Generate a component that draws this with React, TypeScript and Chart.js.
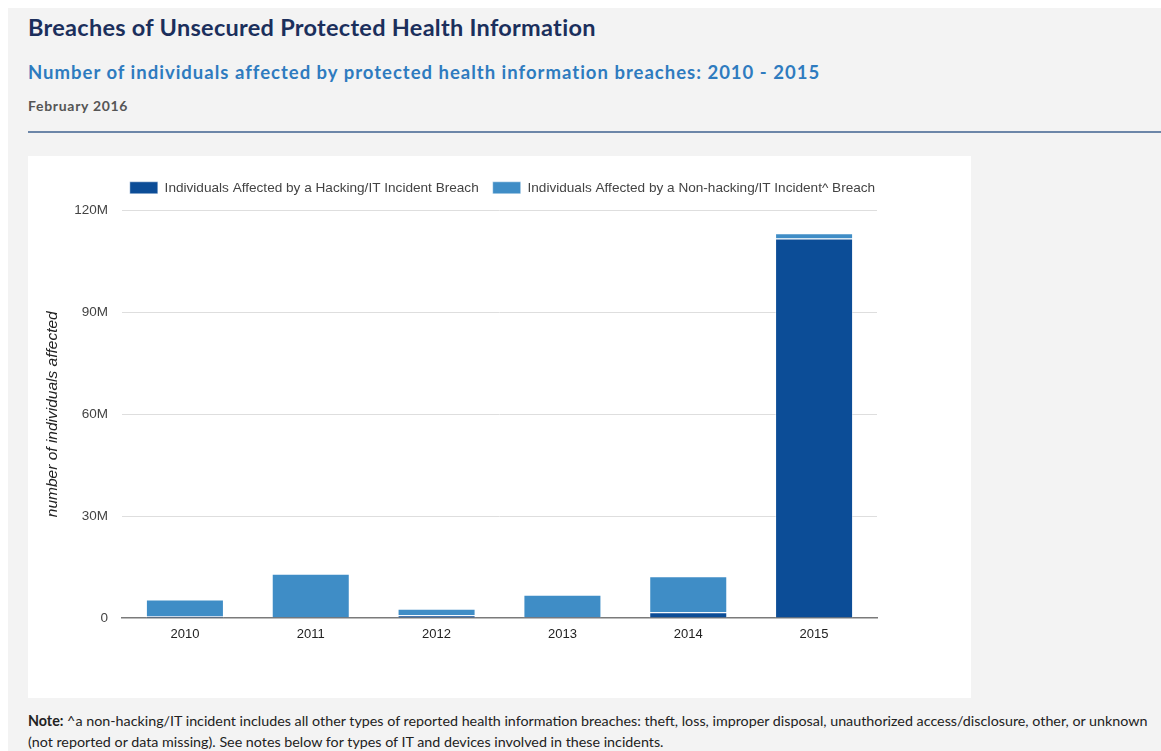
import React, { useEffect, useRef } from "react";
import { Chart, registerables } from "chart.js";

Chart.register(...registerables);

// Years shown on the x axis
const years = ["2010", "2011", "2012", "2013", "2014", "2015"];
// Individuals affected (millions) by hacking/IT incident breaches
const hackingMillions = [0.5, 0.2, 0.8, 0.3, 1.7, 111.8];
// Individuals affected (millions) by non-hacking/IT incident breaches
const nonHackingMillions = [4.9, 12.8, 1.9, 6.55, 10.6, 1.5];
// Y axis tick values (millions)
const yTicks = [0, 30, 60, 90, 120];

const seriesLabels = [
  "Individuals Affected by a Hacking/IT Incident Breach",
  "Individuals Affected by a Non-hacking/IT Incident^ Breach",
];

const DARK = "#0c4d97";
const LIGHT = "#3f8dc6";
const headFont = "Lato, 'Open Sans', sans-serif";
const chartFont = "'Liberation Sans', Arial, sans-serif";

// Adds extra room under the legend before the plot area starts
const legendSpacer = {
  id: "legendSpacer",
  beforeInit(chart: any) {
    if (!chart.legend) return;
    const origFit = chart.legend.fit;
    chart.legend.fit = function fit() {
      origFit.bind(chart.legend)();
      this.height += 6;
    };
  },
};

function BreachChart() {
  const ref = useRef<HTMLCanvasElement | null>(null);
  useEffect(() => {
    if (!ref.current) return;
    const chart = new Chart(ref.current, {
      type: "bar",
      data: {
        labels: years,
        datasets: [
          {
            label: seriesLabels[0],
            data: hackingMillions.map((v) => v * 1e6),
            backgroundColor: DARK,
            borderColor: "rgba(255,255,255,0.45)",
            borderWidth: 1,
            categoryPercentage: 1,
            barPercentage: 0.62,
          },
          {
            label: seriesLabels[1],
            data: nonHackingMillions.map((v) => v * 1e6),
            backgroundColor: LIGHT,
            borderColor: "rgba(255,255,255,0.45)",
            borderWidth: 1,
            categoryPercentage: 1,
            barPercentage: 0.62,
          },
        ],
      },
      plugins: [legendSpacer],
      options: {
        animation: false,
        responsive: false,
        maintainAspectRatio: false,
        layout: { padding: { left: 14, right: 8, top: 11, bottom: 46.5 } },
        plugins: {
          tooltip: { enabled: false },
          legend: {
            position: "top",
            labels: {
              boxWidth: 28,
              boxHeight: 12,
              padding: 14,
              color: "#444",
              font: { family: chartFont, size: 13.6 },
            },
          },
        },
        scales: {
          x: {
            stacked: true,
            grid: { display: false, drawTicks: false },
            border: { display: true, color: "#7a7a7a", width: 1.5 },
            ticks: {
              padding: 9,
              color: "#222",
              font: { family: chartFont, size: 13 },
            },
          },
          y: {
            stacked: true,
            min: 0,
            max: 120e6,
            afterBuildTicks: (scale: any) => {
              scale.ticks = yTicks.map((v) => ({ value: v * 1e6 }));
            },
            afterFit: (scale: any) => {
              scale.width = 80;
            },
            grid: {
              drawTicks: false,
              color: (ctx: any) => (ctx.tick && ctx.tick.value === 0 ? "rgba(0,0,0,0)" : "#dedede"),
            },
            border: { display: false },
            ticks: {
              padding: 14,
              color: "#444",
              font: { family: chartFont, size: 13.5 },
              callback: (v: any) => (Number(v) === 0 ? "0" : `${Number(v) / 1e6}M`),
            },
            title: {
              display: true,
              text: "number of individuals affected",
              color: "#222",
              padding: { top: 1, bottom: 4 },
              font: { family: chartFont, size: 15.5, style: "italic" },
            },
          },
          // empty right-hand axis that keeps the plot area clear of the right edge
          spacer: {
            type: "linear",
            position: "right",
            display: true,
            grid: { display: false, drawTicks: false },
            border: { display: false },
            ticks: { display: false },
            afterFit: (scale: any) => {
              scale.width = 86;
            },
          },
        },
      },
    });
    return () => chart.destroy();
  }, []);
  return <canvas ref={ref} width={943} height={542} style={{ display: "block" }} />;
}

export default function App() {
  return (
    <div
      style={{
        position: "fixed",
        left: 8,
        top: 8,
        right: 0,
        bottom: 0,
        background: "#f3f3f3",
        overflow: "hidden",
        fontFamily: headFont,
      }}
    >
      <div
        style={{
          position: "absolute",
          left: 20,
          top: 5,
          fontSize: 23.5,
          letterSpacing: 0.28,
          fontWeight: 700,
          color: "#1b2f5c",
          whiteSpace: "nowrap",
          lineHeight: "28px",
        }}
      >
        Breaches of Unsecured Protected Health Information
      </div>
      <div
        style={{
          position: "absolute",
          left: 20,
          top: 52,
          fontSize: 18.5,
          letterSpacing: 1,
          fontWeight: 700,
          color: "#2e7bbf",
          whiteSpace: "nowrap",
          lineHeight: "24px",
        }}
      >
        Number of individuals affected by protected health information breaches: 2010 - 2015
      </div>
      <div
        style={{
          position: "absolute",
          left: 20,
          top: 89,
          fontSize: 14,
          letterSpacing: 0.7,
          fontWeight: 700,
          color: "#555",
          whiteSpace: "nowrap",
          lineHeight: "18px",
        }}
      >
        February 2016
      </div>
      <div
        style={{
          position: "absolute",
          left: 20,
          right: 0,
          top: 123,
          height: 2,
          background: "#6c86a8",
        }}
      />
      <div
        style={{
          position: "absolute",
          left: 20,
          top: 148,
          width: 943,
          height: 542,
          background: "#fff",
        }}
      >
        <BreachChart />
      </div>
      <div
        style={{
          position: "absolute",
          left: 20,
          top: 702,
          fontSize: 14.3,
          color: "#222",
          lineHeight: "21px",
          whiteSpace: "nowrap",
        }}
      >
        <b>Note:</b> ^a non-hacking/IT incident includes all other types of reported health information
        breaches: theft, loss, improper disposal, unauthorized access/disclosure, other, or unknown
        <br />
        (not reported or data missing). See notes below for types of IT and devices involved in these
        incidents.
      </div>
    </div>
  );
}
